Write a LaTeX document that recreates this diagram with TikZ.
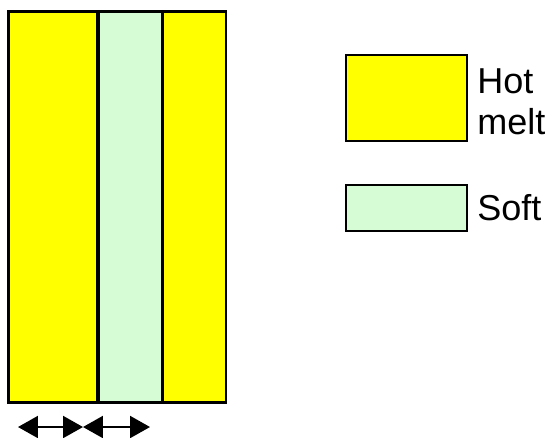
\documentclass[tikz,border=0pt]{standalone}
\usepackage{fontspec}
\setmainfont{Liberation Sans}
\usetikzlibrary{positioning}
\usetikzlibrary{arrows.meta}
\definecolor{hotmelt}{RGB}{255,255,0}
\definecolor{softgreen}{RGB}{214,252,214}
\tikzset{
    layer/.style = {rectangle, line width=1.7pt, draw=black, inner sep=0pt, minimum height=7.84cm},
    layerh/.style = {layer, fill=hotmelt},
    layers/.style = {layer, fill=softgreen},
    legend/.style = {rectangle, line width=1.5pt, draw=black, inner sep=0pt, minimum width=2.42cm},
    legtext/.style = {align=left, inner sep=0pt, font=\fontsize{20.5}{23.3}\selectfont},
    dimarrow/.style = {line width=1.2pt, black, {Triangle[length=0.4cm,width=0.44cm]}-{Triangle[length=0.4cm,width=0.44cm]}}
}
\begin{document}
\begin{tikzpicture}[x=0.02cm,y=-0.02cm]
\path[use as bounding box] (0,0) rectangle (550,437);
%
\node[layerh, minimum width=1.8cm] at (53,207) (left) {};
\node[layers, minimum width=1.28cm] at (130,207) (mid) {};
\node[layerh, minimum width=1.28cm] at (194,207) (right) {};
%
\node[legend, fill=hotmelt, minimum height=1.72cm] at (406.5,98) (hot) {};
\node[legend, fill=softgreen, minimum height=0.92cm] at (406.5,208) (soft) {};
\node[legtext, anchor=north west] at (477,68) (hottext) {Hot\\melt};
\node[legtext, anchor=base west] at (477,220) (softtext) {Soft};
%
\coordinate (a1) at (18,427);
\coordinate (a2) at (83,427);
\coordinate (a3) at (150,427);
\draw[dimarrow] (a1) -- (a2);
\draw[dimarrow] (a2) -- (a3);

\end{tikzpicture}
\end{document}
